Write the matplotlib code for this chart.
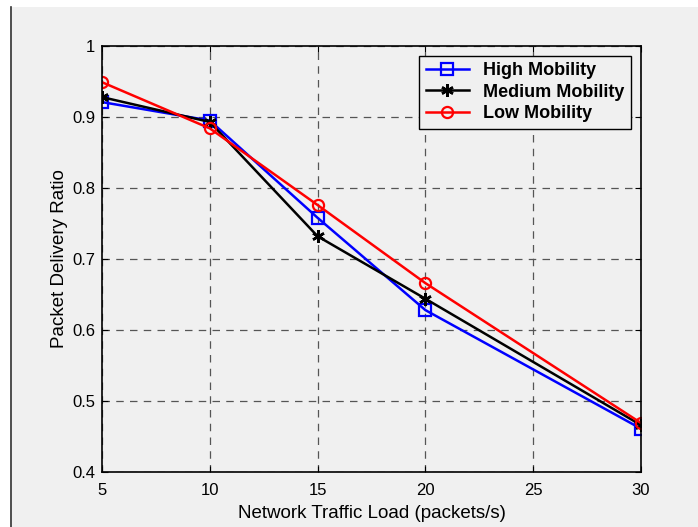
import matplotlib
matplotlib.use("Agg")
import matplotlib.pyplot as plt
from matplotlib.patches import Rectangle
from matplotlib.lines import Line2D

plt.rcParams["font.family"] = ["Liberation Sans", "DejaVu Sans"]

load = [5, 10, 15, 20, 30]
high = [0.921, 0.895, 0.758, 0.628, 0.461]
medium = [0.928, 0.893, 0.732, 0.644, 0.466]
low = [0.949, 0.884, 0.776, 0.666, 0.469]

xticks = [5, 10, 15, 20, 25, 30]
yticks = [0.4, 0.5, 0.6, 0.7, 0.8, 0.9, 1.0]
yticklabels = ["0.4", "0.5", "0.6", "0.7", "0.8", "0.9", "1"]

fig = plt.figure(figsize=(6.98, 5.27), dpi=100)
fig.patch.set_facecolor("#f0f0f0")

# white strips at top/left and the thin frame line
fig.patches.append(Rectangle((0, 1 - 7 / 527), 1, 7 / 527, transform=fig.transFigure,
                             facecolor="white", edgecolor="none", zorder=-1))
fig.patches.append(Rectangle((0, 0), 10 / 698, 1, transform=fig.transFigure,
                             facecolor="white", edgecolor="none", zorder=-1))
fig.lines.append(Line2D([10.5 / 698, 10.5 / 698], [0, 1 - 7 / 527], transform=fig.transFigure,
                        color="#333333", lw=1.2))

ax = fig.add_axes([102 / 698, 55 / 527, 539 / 698, 426 / 527])
ax.set_facecolor("#f0f0f0")

ax.plot(load, high, "-s", color="#0000ff", lw=1.8, ms=8, mfc="none", mew=1.6, label="High Mobility")
ax.plot(load, medium, "-", marker=(6, 2, 0), color="black", lw=1.8, ms=9, mew=1.8, label="Medium Mobility")
ax.plot(load, low, "-o", color="#ff0000", lw=1.8, ms=8, mfc="none", mew=1.6, label="Low Mobility")

ax.set_xlim(5, 30)
ax.set_ylim(0.4, 1.0)
ax.set_xticks(xticks)
ax.set_yticks(yticks)
ax.set_yticklabels(yticklabels)
ax.tick_params(direction="in", top=True, right=True, length=4, labelsize=12, colors="black")
ax.tick_params(axis="x", pad=8)
ax.tick_params(axis="y", pad=5)
ax.grid(True, color="#555555", linestyle=(0, (6, 5)), lw=0.9)
for s in ax.spines.values():
    s.set_linewidth(1.2)

ax.set_xlabel("Network Traffic Load (packets/s)", fontsize=13.5, labelpad=5)
ax.set_ylabel("Packet Delivery Ratio", fontsize=13.5, labelpad=3)

leg = ax.legend(loc="upper right", prop={"weight": "bold", "size": 13},
                frameon=True, fancybox=False, borderpad=0.35, labelspacing=0.25,
                handlelength=2.4, handletextpad=0.8, borderaxespad=0.55)
leg.get_frame().set_edgecolor("black")
leg.get_frame().set_facecolor("#f0f0f0")
leg.get_frame().set_linewidth(1.0)
leg.get_frame().set_alpha(1)

fig.savefig("out.png", dpi=100, facecolor=fig.get_facecolor())
